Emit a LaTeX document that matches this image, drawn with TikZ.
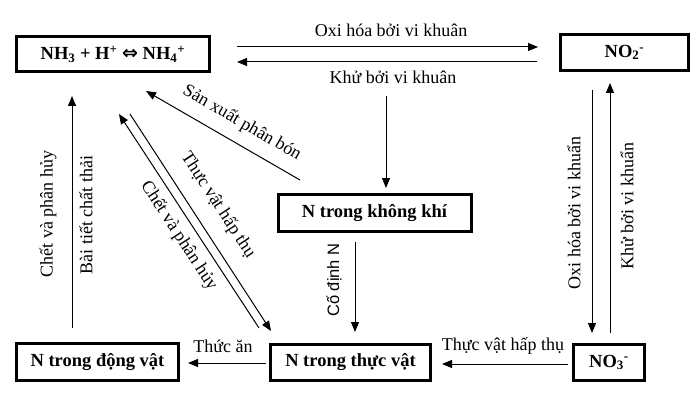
\documentclass[tikz,border=0pt]{standalone}
\usepackage{fontspec}
\setmainfont{Liberation Serif}
\newfontfamily\sansf{Liberation Sans}
\newfontfamily\symf{DejaVu Sans}
\usetikzlibrary{arrows.meta}
\tikzset{
  box/.style={draw, line width=3pt, inner sep=0pt, font=\fontsize{18.5}{20}\selectfont\bfseries},
  conn/.style={line width=1pt, -{Triangle[length=10pt,width=8pt]}},
  lbl/.style={inner sep=0pt, font=\fontsize{18}{20}\selectfont}
}
\begin{document}
\begin{tikzpicture}[x=1pt,y=1pt]
\useasboundingbox (0,0) rectangle (700,-406);
% boxes
\node[box, minimum width=193pt, minimum height=35pt] (nh) at (113,-54) {NH\textsubscript{3} + H\textsuperscript{+} {\symf\fontsize{19}{20}\selectfont ⇔} NH\textsubscript{4}\textsuperscript{+}};
\node[box, minimum width=128pt, minimum height=36pt] (no2) at (624.5,-52.5) {NO\textsubscript{2}\textsuperscript{-}};
\node[box, minimum width=193pt, minimum height=37pt] (air) at (374.5,-213) {N trong không khí};
\node[box, minimum width=162pt, minimum height=37pt] (ani) at (97.5,-362) {N trong động vật};
\node[box, minimum width=160pt, minimum height=36pt] (pla) at (350.5,-362.5) {N trong thực vật};
\node[box, minimum width=71pt, minimum height=36pt] (no3) at (609,-362.5) {NO\textsubscript{3}\textsuperscript{-}};
% coordinates
\coordinate (a1s) at (237,-47); \coordinate (a1e) at (538,-47);
\coordinate (a2s) at (537,-62); \coordinate (a2e) at (237,-62);
\coordinate (a3s) at (386,-96); \coordinate (a3e) at (386,-188);
\coordinate (a4s) at (300,-180); \coordinate (a4e) at (146,-91);
\coordinate (a5s) at (259,-328); \coordinate (a5e) at (119,-114);
\coordinate (a6s) at (130,-114); \coordinate (a6e) at (271,-331);
\coordinate (a7s) at (72,-328); \coordinate (a7e) at (72,-96);
\coordinate (a8s) at (355,-242); \coordinate (a8e) at (355,-332);
\coordinate (a9s) at (592,-90); \coordinate (a9e) at (592,-333);
\coordinate (a10s) at (610,-333); \coordinate (a10e) at (610,-83);
\coordinate (a11s) at (266,-363); \coordinate (a11e) at (188,-363);
\coordinate (a12s) at (568,-364); \coordinate (a12e) at (442,-364);
% connectors
\draw[conn] (a1s) -- (a1e);
\draw[conn] (a2s) -- (a2e);
\draw[conn] (a3s) -- (a3e);
\draw[conn] (a4s) -- (a4e);
\draw[conn] (a5s) -- (a5e);
\draw[conn] (a6s) -- (a6e);
\draw[conn] (a7s) -- (a7e);
\draw[conn] (a8s) -- (a8e);
\draw[conn] (a9s) -- (a9e);
\draw[conn] (a10s) -- (a10e);
\draw[conn] (a11s) -- (a11e);
\draw[conn] (a12s) -- (a12e);
% labels
\node[lbl] (l1) at (391,-30) {Oxi hóa bởi vi khuân};
\node[lbl] (l2) at (393,-77) {Khử bởi vi khuân};
\node[lbl, rotate=-30] (l3) at (242,-123) {Sản xuất phân bón};
\node[lbl, rotate=-57] (l4) at (218,-205) {Thực vật hấp thụ};
\node[lbl, rotate=-57] (l5) at (179,-236) {Chết và phân hủy};
\node[lbl, rotate=90] (l6) at (48,-214) {Chết và phân hủy};
\node[lbl, rotate=90] (l7) at (86,-215) {Bài tiết chất thải};
\node[lbl, rotate=90, font=\sansf\fontsize{16.5}{18}\selectfont] (l8) at (334,-280) {Cố định N};
\node[lbl, rotate=90] (l9) at (574,-213) {Oxi hóa bởi vi khuẩn};
\node[lbl, rotate=90] (l10) at (627,-206) {Khử bởi vi khuẩn};
\node[lbl] (l11) at (223,-346) {Thức ăn};
\node[lbl] (l12) at (503,-346) {Thực vật hấp thụ};
\end{tikzpicture}
\end{document}
